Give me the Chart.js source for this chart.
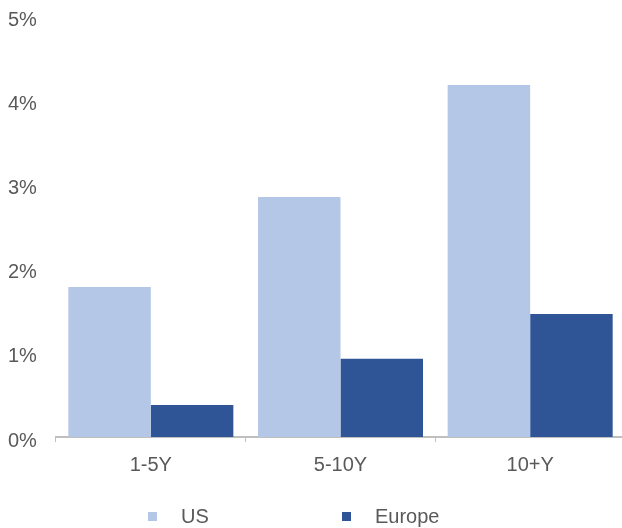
<!DOCTYPE html>
<html>
<head>
<meta charset="utf-8">
<script src="https://cdn.jsdelivr.net/npm/chart.js@4"></script>
<style>
  html, body { margin: 0; padding: 0; background: #fff; overflow: hidden; }
  #chart { display: block; }
</style>
</head>
<body>
<canvas id="chart" width="625" height="528"></canvas>
<script>
var categories = ['1-5Y', '5-10Y', '10+Y'];
var usValues = [1.78, 2.85, 4.18];
var europeValues = [0.38, 0.93, 1.46];
var seriesNames = ['US', 'Europe'];
var seriesColors = ['#b4c7e7', '#2f5597'];

var textColor = '#595959';
var fontFamily = '"Liberation Sans", Arial, sans-serif';

// legend drawn by hand along the bottom, squares + names
var bottomLegend = {
	id: 'bottomLegend',
	afterDraw: function(chart) {
		var ctx = chart.ctx;
		var x = 148;
		ctx.save();
		ctx.font = '20px ' + fontFamily;
		ctx.textBaseline = 'middle';
		ctx.textAlign = 'left';
		chart.data.datasets.forEach(function(ds) {
			ctx.fillStyle = ds.backgroundColor;
			ctx.fillRect(x, 512, 9, 9);
			ctx.fillStyle = textColor;
			ctx.fillText(ds.label, x + 33, 517);
			x += 194;
		});
		ctx.restore();
	}
};

var ctx = document.getElementById('chart').getContext('2d');
var chart = new Chart(ctx, {
	type: 'bar',
	data: {
		labels: categories,
		datasets: [
			{label: seriesNames[0], data: usValues, backgroundColor: seriesColors[0]},
			{label: seriesNames[1], data: europeValues, backgroundColor: seriesColors[1]}
		]
	},
	options: {
		responsive: false,
		animation: false,
		devicePixelRatio: 1,
		categoryPercentage: 0.87,
		barPercentage: 1.0,
		layout: {padding: {top: 16, left: 8, right: 0, bottom: 41}},
		plugins: {
			legend: {display: false},
			tooltip: {enabled: false}
		},
		scales: {
			x: {
				afterFit: function(scale) { scale.height = 50; },
				grid: {
					display: true,
					offset: true,
					drawOnChartArea: false,
					drawTicks: true,
					tickLength: 5,
					color: '#bfbfbf',
					lineWidth: 1
				},
				border: {display: true, color: '#bfbfbf', width: 2},
				ticks: {
					color: textColor,
					padding: 11,
					font: {family: fontFamily, size: 20}
				}
			},
			y: {
				min: 0,
				max: 5,
				afterFit: function(scale) { scale.width = 48; },
				grid: {display: false},
				border: {display: false},
				ticks: {
					stepSize: 1,
					crossAlign: 'far',
					padding: 0,
					labelOffset: 4,
					color: textColor,
					font: {family: fontFamily, size: 20},
					callback: function(v) { return v + '%'; }
				}
			}
		}
	},
	plugins: [bottomLegend]
});
</script>
</body>
</html>
